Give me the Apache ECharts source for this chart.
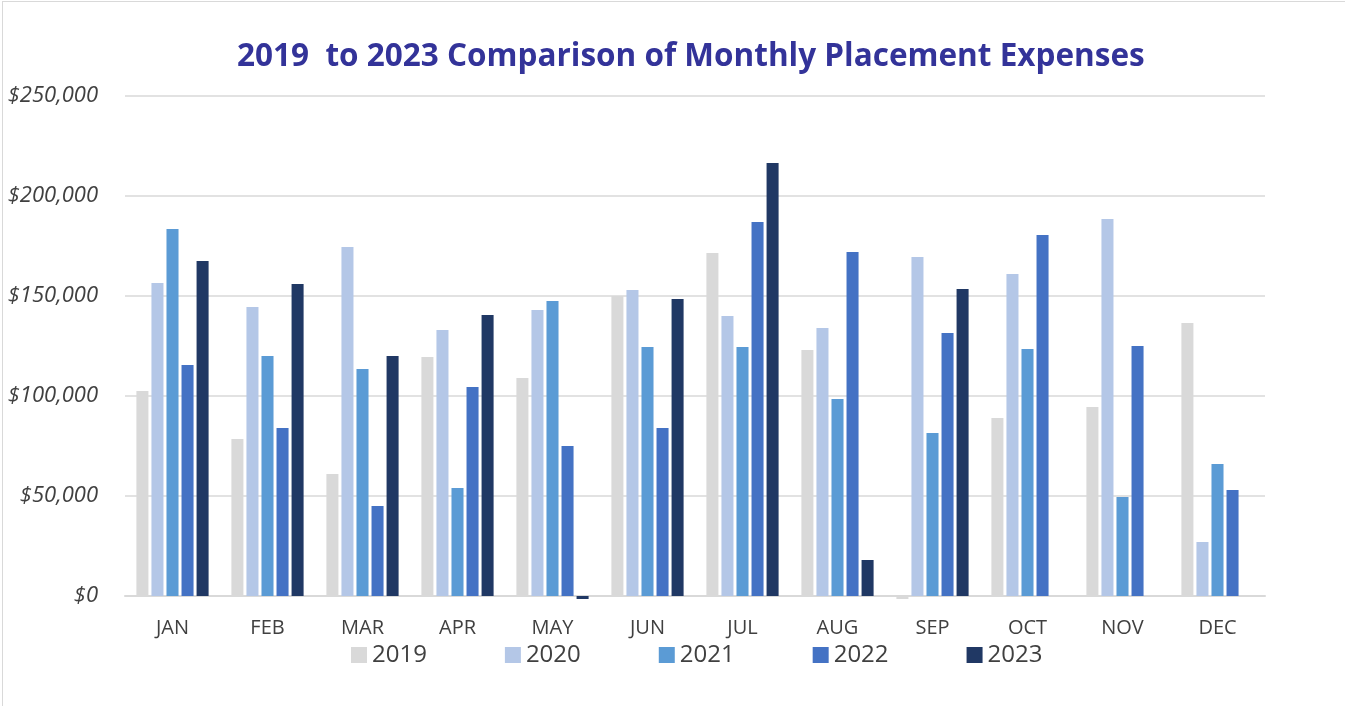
<!DOCTYPE html>
<html>
<head>
<meta charset="utf-8">
<script src="https://cdn.jsdelivr.net/npm/echarts@6/dist/echarts.min.js"></script>
<style>
  html, body { margin: 0; padding: 0; background: #fff; overflow: hidden; }
  #frame { position: absolute; left: 2px; top: 1px; width: 1400px; height: 800px; border: 1px solid #d9d9d9; box-sizing: border-box; }
  #chart { position: absolute; left: 0; top: 0; width: 1345px; height: 706px; }
</style>
</head>
<body>
<div id="frame"></div>
<div id="chart"></div>
<script>
const months = ["JAN", "FEB", "MAR", "APR", "MAY", "JUN", "JUL", "AUG", "SEP", "OCT", "NOV", "DEC"];
const years = ["2019", "2020", "2021", "2022", "2023"];
const yearColors = ["#d9d9d9", "#b4c7e7", "#5b9bd5", "#4472c4", "#203864"];

const exp2019 = [102500, 78500, 61000, 119500, 109000, 150000, 171500, 123000, -1500, 89000, 94500, 136500];
const exp2020 = [156500, 144500, 174500, 133000, 143000, 153000, 140000, 134000, 169500, 161000, 188500, 27000];
const exp2021 = [183500, 120000, 113500, 54000, 147500, 124500, 124500, 98500, 81500, 123500, 49500, 66000];
const exp2022 = [115500, 84000, 45000, 104500, 75000, 84000, 187000, 172000, 131500, 180500, 125000, 53000];
const exp2023 = [167500, 156000, 120000, 140500, -1500, 148500, 216500, 18000, 153500, null, null, null];

const allSeries = [exp2019, exp2020, exp2021, exp2022, exp2023];

const chart = echarts.init(document.getElementById("chart"));
const option = {
  backgroundColor: "transparent",
  animation: false,
  title: {
    text: "2019  to 2023 Comparison of Monthly Placement Expenses",
    left: 232,
    top: 36,
    textStyle: {
      fontFamily: "Open Sans",
      fontWeight: "bold",
      fontSize: 31.5,
      color: "#333399",
    },
  },
  grid: { left: 125, right: 80, top: 96, bottom: 110 },
  legend: {
    bottom: 34,
    left: 346,
    itemWidth: 16,
    itemHeight: 16,
    itemGap: 78,
    icon: "rect",
    textStyle: { fontFamily: "Open Sans", fontSize: 24, color: "#404040" },
    data: years,
  },
  xAxis: {
    type: "category",
    data: months,
    axisLine: { lineStyle: { color: "#d9d9d9", width: 2 } },
    axisTick: { show: false },
    axisLabel: { fontFamily: "Open Sans", fontSize: 20, color: "#404040", margin: 22 },
  },
  yAxis: {
    type: "value",
    min: 0,
    max: 250000,
    interval: 50000,
    axisLine: { show: false },
    axisTick: { show: false },
    splitLine: { lineStyle: { color: "#d9d9d9", width: 1.5 } },
    axisLabel: {
      fontFamily: "Open Sans",
      fontStyle: "italic",
      fontSize: 22,
      color: "#404040",
      margin: 27,
      formatter: (v) => "$" + v.toLocaleString("en-US"),
    },
  },
  series: years.map((y, i) => ({
    name: y,
    type: "bar",
    data: allSeries[i],
    clip: false,
    barGap: "25%",
    barCategoryGap: "24%",
    itemStyle: { color: yearColors[i] },
  })),
};
chart.setOption(option);
</script>
</body>
</html>
